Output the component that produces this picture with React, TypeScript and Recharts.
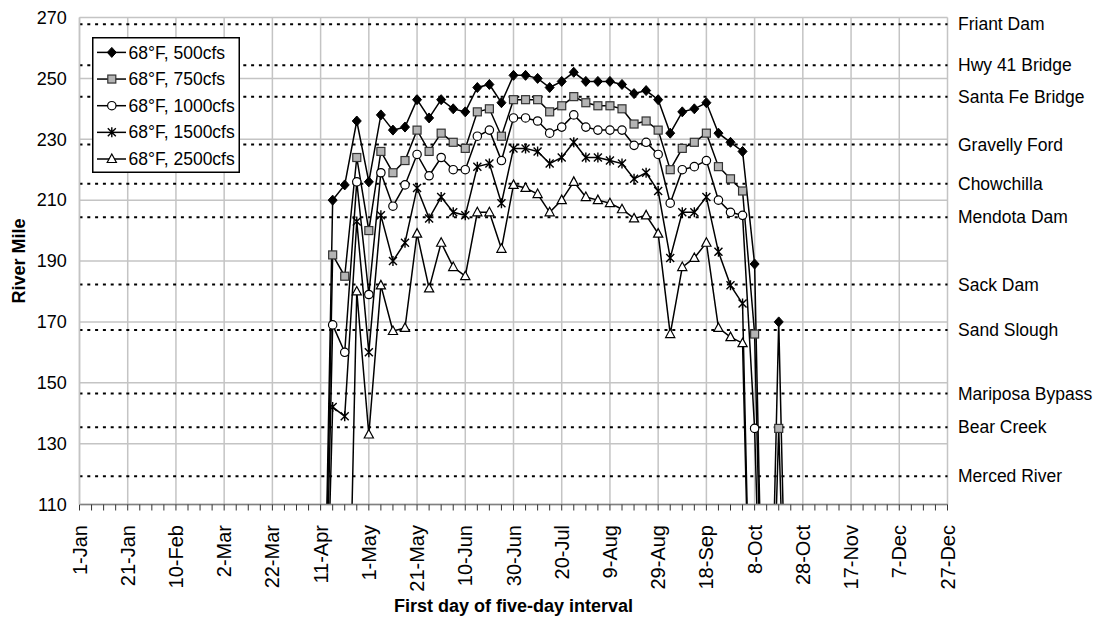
import React from 'react';
import { LineChart, Line, XAxis, YAxis, CartesianGrid, ReferenceLine, Legend } from 'recharts';

// First day of each five-day interval
const days = [
  '1-Jan', '6-Jan', '11-Jan', '16-Jan', '21-Jan', '26-Jan', '31-Jan',
  '5-Feb', '10-Feb', '15-Feb', '20-Feb', '25-Feb',
  '2-Mar', '7-Mar', '12-Mar', '17-Mar', '22-Mar', '27-Mar',
  '1-Apr', '6-Apr', '11-Apr', '16-Apr', '21-Apr', '26-Apr',
  '1-May', '6-May', '11-May', '16-May', '21-May', '26-May', '31-May',
  '5-Jun', '10-Jun', '15-Jun', '20-Jun', '25-Jun', '30-Jun',
  '5-Jul', '10-Jul', '15-Jul', '20-Jul', '25-Jul', '30-Jul',
  '4-Aug', '9-Aug', '14-Aug', '19-Aug', '24-Aug', '29-Aug',
  '3-Sep', '8-Sep', '13-Sep', '18-Sep', '23-Sep', '28-Sep',
  '3-Oct', '8-Oct', '13-Oct', '18-Oct', '23-Oct', '28-Oct',
  '2-Nov', '7-Nov', '12-Nov', '17-Nov', '22-Nov', '27-Nov',
  '2-Dec', '7-Dec', '12-Dec', '17-Dec', '22-Dec', '27-Dec',
];

// River mile reached by 68°F water, per release flow
const flow500 = [
  0, 0, 0, 0, 0, 0, 0, 0, 0, 0, 0, 0, 0, 0, 0, 0, 0, 0, 0, 0, 0,
  210, 215, 236, 216, 238, 233, 234, 243, 237, 243, 240, 239, 247, 248, 242,
  251, 251, 250, 247, 249, 252, 249, 249, 249, 248, 245, 246, 243, 232, 239,
  240, 242, 232, 229, 226, 189, 0, 170, 0,
  0, 0, 0, 0, 0, 0, 0, 0, 0, 0, 0, 0, 0,
];
const flow750 = [
  0, 0, 0, 0, 0, 0, 0, 0, 0, 0, 0, 0, 0, 0, 0, 0, 0, 0, 0, 0, 0,
  192, 185, 224, 200, 226, 219, 223, 233, 226, 232, 229, 227, 239, 240, 231,
  243, 243, 243, 239, 241, 244, 242, 241, 241, 240, 235, 236, 233, 220, 227,
  229, 232, 221, 217, 213, 166, 0, 135, 0,
  0, 0, 0, 0, 0, 0, 0, 0, 0, 0, 0, 0, 0,
];
const flow1000 = [
  0, 0, 0, 0, 0, 0, 0, 0, 0, 0, 0, 0, 0, 0, 0, 0, 0, 0, 0, 0, 0,
  169, 160, 216, 179, 219, 208, 215, 225, 218, 224, 220, 220, 231, 233, 223,
  237, 237, 236, 232, 234, 238, 234, 233, 233, 233, 228, 229, 225, 209, 220,
  221, 223, 210, 206, 205, 135, 0, 0, 0,
  0, 0, 0, 0, 0, 0, 0, 0, 0, 0, 0, 0, 0,
];
const flow1500 = [
  0, 0, 0, 0, 0, 0, 0, 0, 0, 0, 0, 0, 0, 0, 0, 0, 0, 0, 0, 0, 0,
  142, 139, 203, 160, 205, 190, 196, 214, 204, 211, 206, 205, 221, 222, 209,
  227, 227, 226, 222, 224, 229, 224, 224, 223, 222, 217, 219, 213, 191, 206,
  206, 211, 193, 182, 176, 0, 0, 0, 0,
  0, 0, 0, 0, 0, 0, 0, 0, 0, 0, 0, 0, 0,
];
const flow2500 = [
  0, 0, 0, 0, 0, 0, 0, 0, 0, 0, 0, 0, 0, 0, 0, 0, 0, 0, 0, 0, 0,
  0, 0, 180, 133, 182, 167, 168, 199, 181, 196, 188, 185, 206, 206, 194,
  215, 214, 212, 206, 210, 216, 211, 210, 209, 207, 204, 205, 199, 166, 188,
  191, 196, 168, 165, 163, 0, 0, 0, 0,
  0, 0, 0, 0, 0, 0, 0, 0, 0, 0, 0, 0, 0,
];

const seriesNames = ['68°F, 500cfs', '68°F, 750cfs', '68°F, 1000cfs', '68°F, 1500cfs', '68°F, 2500cfs'];
const seriesKeys = ['q500', 'q750', 'q1000', 'q1500', 'q2500'];
const seriesShapes = ['diamond', 'square', 'circle', 'star', 'triangle'];

const yTicks = [110, 130, 150, 170, 190, 210, 230, 250, 270];

// Landmarks along the river (river mile)
const landmarkNames = [
  'Friant Dam', 'Hwy 41 Bridge', 'Santa Fe Bridge', 'Gravelly Ford', 'Chowchilla',
  'Mendota Dam', 'Sack Dam', 'Sand Slough', 'Mariposa Bypass', 'Bear Creek', 'Merced River',
];
const landmarkMiles = [267.8, 254.3, 244, 228.3, 215.4, 204.4, 182.3, 167.3, 146.5, 135.4, 119.3];

const data = days.map((day, i) => ({
  day,
  q500: flow500[i],
  q750: flow750[i],
  q1000: flow1000[i],
  q1500: flow1500[i],
  q2500: flow2500[i],
}));

const FONT = '"Liberation Sans", Arial, Helvetica, sans-serif';
const GRID = '#c4c4c4';

function Marker({ shape, cx, cy }: { shape: string; cx: number; cy: number }) {
  switch (shape) {
    case 'diamond':
      return <path d={`M${cx},${cy - 5}L${cx + 4.5},${cy}L${cx},${cy + 5}L${cx - 4.5},${cy}Z`} fill="#000" stroke="#000" strokeWidth={1} />;
    case 'square':
      return <rect x={cx - 4} y={cy - 4} width={8} height={8} fill="#b4b4b4" stroke="#333" strokeWidth={1.2} />;
    case 'circle':
      return <circle cx={cx} cy={cy} r={4.2} fill="#fff" stroke="#000" strokeWidth={1.2} />;
    case 'star':
      return (
        <path
          d={`M${cx - 4},${cy - 4}L${cx + 4},${cy + 4}M${cx - 4},${cy + 4}L${cx + 4},${cy - 4}M${cx},${cy - 5}L${cx},${cy + 5}`}
          stroke="#000" strokeWidth={1.4} fill="none"
        />
      );
    default:
      return <path d={`M${cx},${cy - 5}L${cx + 4.6},${cy + 3.5}L${cx - 4.6},${cy + 3.5}Z`} fill="#fff" stroke="#000" strokeWidth={1.2} />;
  }
}

const makeDot = (shape: string) => (props: any) => {
  const { cx, cy, index } = props;
  if (cx == null || cy == null) return <g key={`${shape}-${index}`} />;
  return (
    <g key={`${shape}-${index}`}>
      <Marker shape={shape} cx={cx} cy={cy} />
    </g>
  );
};

const XTick = (props: any) => {
  const { x, y, payload } = props;
  const idx = payload?.index ?? props.index;
  if (idx % 4 !== 0) return <g />;
  return (
    <text
      x={x}
      y={y}
      transform={`rotate(-90, ${x}, ${y})`}
      textAnchor="end"
      dy="0.35em"
      fontSize={20}
      fontFamily={FONT}
      fill="#000"
    >
      {payload.value}
    </text>
  );
};

const YTick = (props: any) => {
  const { x, y, payload } = props;
  return (
    <text x={x} y={y} dy="0.35em" textAnchor="end" fontSize={18} fontFamily={FONT} fill="#000">
      {payload.value}
    </text>
  );
};

const LegendBox = () => (
  <svg width={148} height={136} style={{ display: 'block' }}>
    <rect x={0.75} y={0.75} width={146.5} height={134.5} fill="#fff" stroke="#000" strokeWidth={1.5} />
    {seriesNames.map((name, i) => {
      const cy = 15.4 + i * 26.65;
      return (
        <g key={name}>
          <line x1={5} y1={cy} x2={34} y2={cy} stroke="#000" strokeWidth={1.5} />
          <Marker shape={seriesShapes[i]} cx={19.8} cy={cy} />
          <text x={36.5} y={cy} dy="0.35em" fontSize={17.5} fontFamily={FONT} fill="#000">
            {name}
          </text>
        </g>
      );
    })}
  </svg>
);

const LandmarkLabel = (name: string) => (props: any) => {
  const vb = props.viewBox || {};
  return (
    <text
      x={vb.x + vb.width + 10.5}
      y={vb.y}
      dy="0.35em"
      fontSize={17.5}
      fontFamily={FONT}
      fill="#000"
    >
      {name}
    </text>
  );
};

const YTitle = (props: any) => {
  const vb = props.viewBox || {};
  const cx = 18.5;
  const cy = vb.y + vb.height / 2;
  return (
    <text
      x={cx}
      y={cy}
      transform={`rotate(-90, ${cx}, ${cy})`}
      textAnchor="middle"
      dy="0.35em"
      fontSize={18}
      fontWeight="bold"
      fontFamily={FONT}
      fill="#000"
    >
      River Mile
    </text>
  );
};

const XTitle = (props: any) => {
  const vb = props.viewBox || {};
  return (
    <text
      x={vb.x + vb.width / 2}
      y={vb.y + 101}
      dy="0.35em"
      textAnchor="middle"
      fontSize={18}
      fontWeight="bold"
      fontFamily={FONT}
      fill="#000"
    >
      First day of five-day interval
    </text>
  );
};

const gridDays = days.filter((_, i) => i % 4 === 0);

export default function App() {
  return (
    <div style={{ position: 'absolute', left: 0, top: 0, width: 1101, height: 617 }}>
      <LineChart
        width={1101}
        height={617}
        data={data}
        margin={{ top: 17.5, right: 153.5, bottom: 0, left: 0 }}
      >
        <CartesianGrid vertical={false} stroke={GRID} strokeWidth={1.5} />
        {gridDays.map((d) => (
          <ReferenceLine key={`g-${d}`} x={d} stroke={GRID} strokeWidth={1.5} />
        ))}
        <XAxis
          dataKey="day"
          type="category"
          interval={0}
          height={112.5}
          tick={<XTick />}
          tickSize={6}
          tickMargin={14.5}
          axisLine={{ stroke: '#808080', strokeWidth: 1.5 }}
          tickLine={{ stroke: '#333', strokeWidth: 1 }}
          label={<XTitle />}
        />
        <YAxis
          domain={[110, 270]}
          ticks={yTicks}
          allowDataOverflow
          width={79.5}
          tick={<YTick />}
          tickLine={false}
          tickSize={6}
          tickMargin={6.8}
          axisLine={{ stroke: GRID, strokeWidth: 1.5 }}
          label={<YTitle />}
        />
        {landmarkNames.map((name, i) => (
          <ReferenceLine
            key={name}
            y={landmarkMiles[i]}
            stroke="#000"
            strokeWidth={2}
            strokeDasharray="3 4.8"
            label={LandmarkLabel(name)}
          />
        ))}
        {seriesKeys.map((k, i) => (
          <Line
            key={k}
            dataKey={k}
            name={seriesNames[i]}
            type="linear"
            stroke="#000"
            strokeWidth={1.5}
            dot={makeDot(seriesShapes[i])}
            activeDot={false}
            isAnimationActive={false}
          />
        ))}
        <Legend
          layout="vertical"
          align="center"
          verticalAlign="middle"
          wrapperStyle={{ left: 91.7, top: 37.3, width: 148, height: 136 }}
          content={() => <LegendBox />}
        />
      </LineChart>
    </div>
  );
}
